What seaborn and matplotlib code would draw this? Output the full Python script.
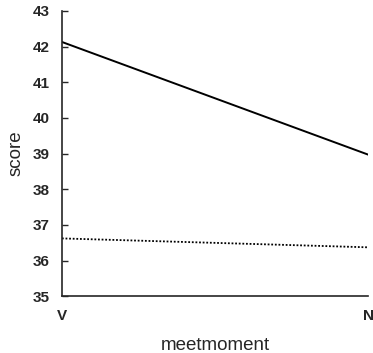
import matplotlib
matplotlib.use("Agg")
import matplotlib.pyplot as plt
import seaborn as sns
import pandas as pd

moments = ["V", "N"]
group_a = [42.13, 38.97]
group_b = [36.62, 36.37]

df = pd.DataFrame({
    "meetmoment": moments * 2,
    "score": group_a + group_b,
    "group": ["a"] * 2 + ["b"] * 2,
})

sns.set_style("ticks")
plt.rcParams["font.family"] = ["Liberation Sans", "DejaVu Sans"]

fig = plt.figure(figsize=(3.73, 3.53), dpi=100)
ax = fig.add_axes([0.166, 0.161, 0.821, 0.808])
sns.lineplot(data=df[df.group == "a"], x="meetmoment", y="score", color="black",
             linewidth=1.4, ax=ax, sort=False)
sns.lineplot(data=df[df.group == "b"], x="meetmoment", y="score", color="black",
             linewidth=1.3, linestyle=(0, (1, 1)), ax=ax, sort=False)

ax.set_ylim(35, 43)
ax.set_xlim(0, 1)
ax.set_yticks(range(35, 44))
ax.set_xticks([0, 1])
ax.set_xticklabels(moments)
sns.despine(ax=ax)
ax.spines["left"].set_linewidth(1.2)
ax.spines["bottom"].set_linewidth(1.2)
ax.tick_params(axis="y", direction="in", length=4, width=1, labelsize=11, pad=9)
ax.tick_params(axis="x", length=0, labelsize=11, pad=9)
for lab in ax.get_xticklabels() + ax.get_yticklabels():
    lab.set_fontweight("bold")
ax.set_xlabel("meetmoment", fontsize=13.5, labelpad=10)
ax.set_ylabel("score", fontsize=13.5, labelpad=6)
fig.savefig("out.png", dpi=100)
